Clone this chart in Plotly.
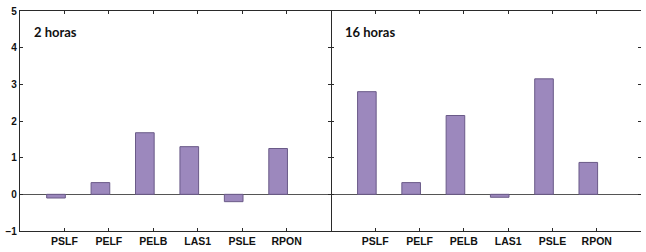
import plotly.graph_objects as go

categories = ["PSLF", "PELF", "PELB", "LAS1", "PSLE", "RPON"]
values_2h = [-0.1, 0.32, 1.68, 1.30, -0.2, 1.25]
values_16h = [2.80, 0.32, 2.15, -0.08, 3.15, 0.87]
panel_titles = ["2 horas", "16 horas"]
y_ticks = [-1, 0, 1, 2, 3, 4, 5]

fill = "#9c88bd"
edge = "#6a5a88"

fig = go.Figure()
for i, vals in enumerate([values_2h, values_16h]):
    fig.add_trace(go.Bar(
        x=categories, y=vals,
        xaxis="x" if i == 0 else "x2", yaxis="y" if i == 0 else "y2",
        width=0.42, offset=-0.40,
        marker=dict(color=fill, line=dict(color=edge, width=1)),
        showlegend=False,
    ))

split = (330 - 18) / 623
axis_common = dict(
    showline=True, linecolor="#2a2a2a", linewidth=1.2, mirror="ticks",
    ticks="inside", ticklen=3, tickcolor="#2a2a2a", showgrid=False,
)
tfont = dict(family="Liberation Sans", size=10.5, color="#111111", weight="bold")
xcommon = dict(axis_common, type="category", range=[-1, 6], tickfont=tfont)
ycommon = dict(axis_common, range=[-1, 5], tickvals=y_ticks,
               zeroline=True, zerolinecolor="#555555", zerolinewidth=1)

fig.update_layout(
    width=646, height=252,
    margin=dict(l=18, r=5, t=11, b=20),
    paper_bgcolor="white", plot_bgcolor="white",
    xaxis=dict(xcommon, domain=[0, split], anchor="y"),
    xaxis2=dict(xcommon, domain=[split, 1], anchor="y2"),
    yaxis=dict(ycommon, anchor="x", showticklabels=True,
               tickfont=dict(family="Liberation Sans", size=10, color="#111111", weight="bold")),
    yaxis2=dict(ycommon, anchor="x2", showticklabels=False, showline=False),
)

for i, t in enumerate(panel_titles):
    fig.add_annotation(
        text="<b>" + t + "</b>", xref=("x domain" if i == 0 else "x2 domain"),
        yref="paper", x=0.04, y=0.905, xanchor="left", yanchor="middle",
        showarrow=False, font=dict(family="Lato", size=13, color="#111111"),
    )

fig.write_html("out.html")
